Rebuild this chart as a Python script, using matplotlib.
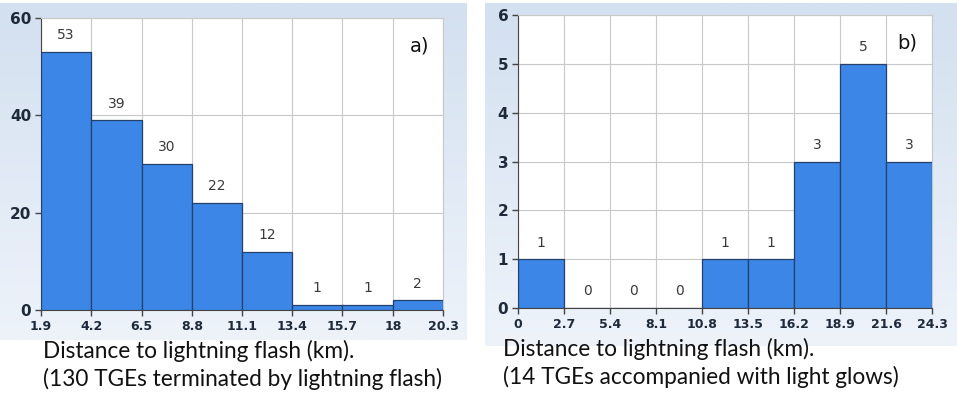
import matplotlib
matplotlib.use("Agg")
import matplotlib.pyplot as plt
import numpy as np
from matplotlib.colors import LinearSegmentedColormap

# panel a) - 130 TGEs terminated by lightning flash
edges_a = ["1.9", "4.2", "6.5", "8.8", "11.1", "13.4", "15.7", "18", "20.3"]
counts_a = [53, 39, 30, 22, 12, 1, 1, 2]
yticks_a = [0, 20, 40, 60]

# panel b) - 14 TGEs accompanied with light glows
edges_b = ["0", "2.7", "5.4", "8.1", "10.8", "13.5", "16.2", "18.9", "21.6", "24.3"]
counts_b = [1, 0, 0, 0, 1, 1, 3, 5, 3]
yticks_b = [0, 1, 2, 3, 4, 5, 6]

W, H = 957, 395
fig = plt.figure(figsize=(W / 100, H / 100), dpi=100)
fig.patch.set_facecolor("white")

bg_cmap = LinearSegmentedColormap.from_list("bg", ["#d3e0f0", "#eef3fa"])
grad = np.linspace(0, 1, 256).reshape(-1, 1)


def panel_bg(x0, y0, x1, y1):
    # pixel box -> figure fraction, vertical gradient
    bax = fig.add_axes([x0 / W, 1 - y1 / H, (x1 - x0) / W, (y1 - y0) / H], zorder=0)
    bax.imshow(grad, aspect="auto", cmap=bg_cmap, extent=[0, 1, 0, 1])
    bax.axis("off")


panel_bg(0, 3, 467, 340)
panel_bg(485, 3, 957, 346)


def histo(box, edges, counts, yticks, tag):
    x0, y0, x1, y1 = box
    ax = fig.add_axes([x0 / W, 1 - y1 / H, (x1 - x0) / W, (y1 - y0) / H], zorder=2)
    ax.set_facecolor("white")
    e = np.array([float(v) for v in edges])
    ax.bar(e[:-1], counts, width=np.diff(e), align="edge", color="#3b86e6",
           edgecolor="#24416b", linewidth=0.9, zorder=3)
    for xl, w, c in zip(e[:-1], np.diff(e), counts):
        ax.annotate(str(c), (xl + w / 2, c), xytext=(0, 12), textcoords="offset points",
                    ha="center", va="center", fontsize=10, color="#3a3a3a", zorder=4)
    ax.set_xlim(e[0], e[-1])
    ax.set_ylim(yticks[0], yticks[-1])
    ax.set_xticks(e)
    ax.set_xticklabels(edges, fontsize=9, fontweight="bold", color="#1e2a3a")
    ax.set_yticks(yticks)
    ax.set_yticklabels([str(v) for v in yticks], fontsize=11, fontweight="bold", color="#1e2a3a")
    ax.grid(True, color="#c8c8c8", linewidth=0.8, zorder=1)
    ax.set_axisbelow(True)
    for s in ["top", "right"]:
        ax.spines[s].set_color("#c8c8c8")
    for s in ["left", "bottom"]:
        ax.spines[s].set_color("#444444")
    ax.tick_params(axis="both", direction="out", length=4, width=1, color="#444444", pad=3)
    ax.text(0.965, 0.905, tag, transform=ax.transAxes, ha="right", va="center",
            fontsize=14, color="#111111", zorder=5)
    return ax


histo((41, 18, 443, 310), edges_a, counts_a, yticks_a, "a)")
histo((518, 15, 932, 308), edges_b, counts_b, yticks_b, "b)")

cap = dict(fontsize=16.3, family="Lato", color="#111111", ha="left", va="center")
fig.text(43 / W, 1 - 351 / H, "Distance to lightning flash (km).", **cap)
fig.text(43 / W, 1 - 379 / H, "(130 TGEs terminated by lightning flash)", **cap)
fig.text(503 / W, 1 - 349 / H, "Distance to lightning flash (km).", **cap)
fig.text(503 / W, 1 - 377 / H, "(14 TGEs accompanied with light glows)", **cap)

fig.savefig("out.png", dpi=100, facecolor="white")
